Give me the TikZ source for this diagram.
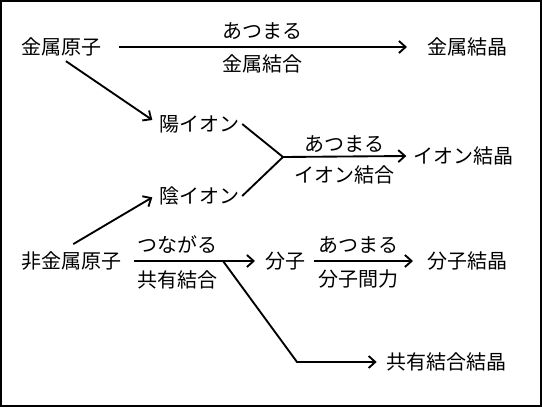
\documentclass[tikz,border=0pt]{standalone}
\usepackage{fontspec}
\setmainfont{Noto Sans CJK JP}
\usetikzlibrary{arrows.meta}

\begin{document}
\begin{tikzpicture}[x=0.75pt,y=-0.75pt,font=\fontsize{15}{18}\selectfont,line width=1.4pt,
        word/.style={anchor=west,inner sep=0pt},
        link/.style={-{Straight Barb[length=5pt,width=9pt]}},
        over/.style={yshift=12pt},
        under/.style={yshift=-13pt}]
        \useasboundingbox (0,0) rectangle (542,407);
        \draw [line width=1.5pt] (1,1) rectangle (541,406);
        % words
        \node[word] (kgenshi) at (21,47) {金属原子};
        \node[word] (kkessho) at (427,47) {金属結晶};
        \node[word] (yoion) at (159,124) {陽イオン};
        \node[word] (inion) at (159,196) {陰イオン};
        \node[word] (ikessho) at (413,156) {イオン結晶};
        \node[word] (hgenshi) at (21,261) {非金属原子};
        \node[word] (bunshi) at (265,261) {分子};
        \node[word] (bkessho) at (427,261) {分子結晶};
        \node[word] (kkkessho) at (386,362) {共有結合結晶};
        \coordinate (junc) at (283,157);
        \coordinate (split) at (223,261);
        \coordinate (bend) at (297,362);
        % metal
        \draw [link] ([xshift=12pt]kgenshi.east) -- node[over]{あつまる} node[under]{金属結合} ([xshift=-15pt]kkessho.west);
        \draw [link] ([shift={(3pt,-3pt)}]kgenshi.south) -- ([shift={(-5pt,3pt)}]yoion.west);
        % ion
        \draw [link] ([shift={(1pt,5pt)}]hgenshi.north) -- ([shift={(-5pt,-1pt)}]inion.west);
        \draw ([xshift=1pt]yoion.east) -- (junc) -- ([xshift=1pt]inion.east);
        \draw [link] (junc) -- node[yshift=9pt]{あつまる} node[yshift=-13.5pt]{イオン結合} ([xshift=-5pt]ikessho.west);
        % molecule
        \draw [link] ([xshift=8pt]hgenshi.east) -- node[pos=0.36,over]{つながる} node[pos=0.36,yshift=-14pt]{共有結合} ([xshift=-7.5pt]bunshi.west);
        \draw [link] (split) -- (bend) -- ([xshift=-7pt]kkkessho.west);
        \draw [link] ([xshift=5pt]bunshi.east) -- node[pos=0.45,over]{あつまる} node[pos=0.45,yshift=-13.5pt]{分子間力} ([xshift=-10.5pt]bkessho.west);
\end{tikzpicture}
\end{document}
